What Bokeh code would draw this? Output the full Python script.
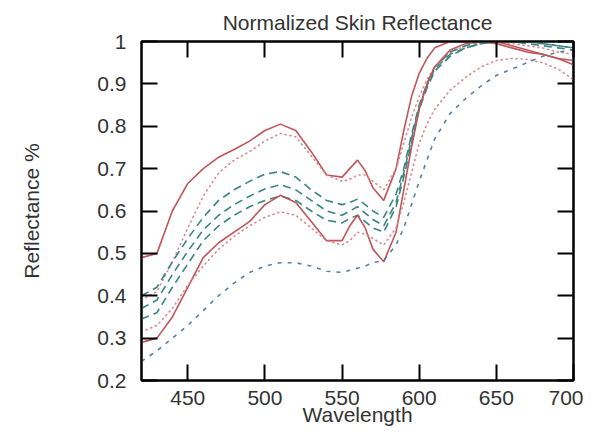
from bokeh.plotting import figure
from bokeh.models import LinearAxis, FixedTicker, CustomJSTickFormatter
from bokeh.embed import file_html
from bokeh.resources import INLINE

# ---- data ----
wavelength = [420, 430, 440, 450, 460, 470, 480, 490, 500, 510, 520, 530, 540, 550,
              555, 560, 565, 570, 577, 585, 590, 595, 600, 605, 610,
              620, 630, 640, 650, 660, 670, 680, 690, 700]

red_solid_upper = [0.49, 0.50, 0.60, 0.665, 0.70, 0.727, 0.745, 0.765, 0.79, 0.805, 0.79, 0.74, 0.685, 0.68,
                   0.70, 0.72, 0.695, 0.655, 0.625, 0.70, 0.79, 0.87, 0.925, 0.96, 0.985,
                   1.0, 1.0, 1.0, 0.995, 0.985, 0.975, 0.97, 0.96, 0.955]
red_dotted_upper = [0.39, 0.41, 0.48, 0.56, 0.635, 0.69, 0.72, 0.74, 0.765, 0.783, 0.775, 0.73, 0.685, 0.67,
                    0.675, 0.685, 0.685, 0.67, 0.65, 0.70, 0.76, 0.82, 0.87, 0.91, 0.94,
                    0.975, 0.99, 1.0, 1.0, 0.995, 0.99, 0.985, 0.975, 0.97]
teal_dashed_1 = [0.40, 0.42, 0.48, 0.535, 0.585, 0.625, 0.65, 0.67, 0.687, 0.693, 0.68, 0.65, 0.625, 0.615,
                 0.62, 0.628, 0.615, 0.60, 0.585, 0.64, 0.70, 0.78, 0.85, 0.90, 0.94,
                 0.975, 0.99, 1.0, 1.0, 1.0, 1.0, 0.995, 0.99, 0.985]
teal_dashed_2 = [0.37, 0.39, 0.45, 0.505, 0.555, 0.59, 0.615, 0.635, 0.652, 0.662, 0.65, 0.625, 0.60, 0.59,
                 0.60, 0.61, 0.595, 0.58, 0.565, 0.62, 0.69, 0.77, 0.845, 0.895, 0.935,
                 0.97, 0.985, 0.995, 1.0, 1.0, 1.0, 0.995, 0.99, 0.985]
teal_dashed_3 = [0.345, 0.36, 0.42, 0.475, 0.53, 0.565, 0.59, 0.61, 0.625, 0.635, 0.625, 0.60, 0.578, 0.572,
                 0.582, 0.59, 0.575, 0.56, 0.55, 0.61, 0.68, 0.76, 0.84, 0.89, 0.93,
                 0.965, 0.985, 0.995, 1.0, 1.0, 0.995, 0.99, 0.985, 0.98]
red_solid_lower = [0.29, 0.30, 0.35, 0.42, 0.49, 0.525, 0.55, 0.575, 0.615, 0.637, 0.62, 0.575, 0.53, 0.53,
                   0.565, 0.59, 0.56, 0.51, 0.48, 0.55, 0.65, 0.75, 0.84, 0.90, 0.94,
                   0.98, 0.995, 1.0, 1.0, 0.99, 0.98, 0.97, 0.96, 0.945]
red_dotted_lower = [0.315, 0.33, 0.37, 0.425, 0.47, 0.51, 0.54, 0.565, 0.585, 0.598, 0.59, 0.56, 0.53, 0.52,
                    0.53, 0.55, 0.545, 0.535, 0.52, 0.56, 0.62, 0.69, 0.76, 0.805, 0.84,
                    0.885, 0.915, 0.94, 0.955, 0.96, 0.958, 0.95, 0.935, 0.91]
blue_dashed = [0.245, 0.27, 0.30, 0.33, 0.365, 0.40, 0.43, 0.455, 0.47, 0.478, 0.478, 0.47, 0.458, 0.455,
               0.46, 0.465, 0.47, 0.478, 0.483, 0.52, 0.56, 0.615, 0.67, 0.72, 0.77,
               0.83, 0.865, 0.895, 0.92, 0.935, 0.95, 0.965, 0.975, 0.98]

x_ticks = [450, 500, 550, 600, 650, 700]
y_ticks = [0.2, 0.3, 0.4, 0.5, 0.6, 0.7, 0.8, 0.9, 1.0]

FONT = "Liberation Sans"
TXT = "#333333"

p = figure(frame_width=432, frame_height=339, x_range=(420, 700), y_range=(0.2, 1.0),
           output_backend="svg", toolbar_location=None,
           title="Normalized Skin Reflectance", x_axis_label="Wavelength",
           y_axis_label="Reflectance %",
           min_border_left=133, min_border_right=10, min_border_top=34, min_border_bottom=52)
p.grid.visible = False
p.background_fill_color = "white"
p.border_fill_color = "white"
p.outline_line_color = "black"
p.outline_line_width = 2

p.title.align = "center"
p.title.text_font = FONT
p.title.text_font_size = "21px"
p.title.text_font_style = "normal"
p.title.text_color = TXT
p.title.standoff = 16

# series
red = "#c0555a"
red_dot = "#d8868c"
teal = "#3a8580"
blue = "#557fa3"
p.line(wavelength, red_solid_upper, line_color=red, line_width=1.6)
p.line(wavelength, red_dotted_upper, line_color=red_dot, line_width=1.6, line_dash="1 4", line_cap="round")
p.line(wavelength, teal_dashed_1, line_color=teal, line_width=1.6, line_dash="8 5")
p.line(wavelength, teal_dashed_2, line_color=teal, line_width=1.6, line_dash="8 5")
p.line(wavelength, teal_dashed_3, line_color=teal, line_width=1.6, line_dash="8 5")
p.line(wavelength, red_solid_lower, line_color=red, line_width=1.6)
p.line(wavelength, red_dotted_lower, line_color=red_dot, line_width=1.6, line_dash="1 4", line_cap="round")
p.line(wavelength, blue_dashed, line_color=blue, line_width=1.6, line_dash="4 6")

fmt_y = CustomJSTickFormatter(code="return (Math.round(tick*10)/10).toString();")
fmt_x = CustomJSTickFormatter(code="return Math.round(tick).toString();")
blank = CustomJSTickFormatter(code="return '';")

def style(ax):
    ax.axis_line_color = "black"
    ax.axis_line_width = 2
    ax.major_tick_line_color = "black"
    ax.major_tick_line_width = 2
    ax.major_tick_in = 16
    ax.major_tick_out = 0
    ax.minor_tick_line_color = None
    ax.major_label_text_font = FONT
    ax.major_label_text_font_size = "21px"
    ax.major_label_text_color = TXT
    ax.axis_label_text_font = FONT
    ax.axis_label_text_font_size = "21px"
    ax.axis_label_text_font_style = "normal"
    ax.axis_label_text_color = TXT

xa = p.xaxis[0]
xa.ticker = FixedTicker(ticks=x_ticks)
xa.formatter = fmt_x
style(xa)
xa.major_label_standoff = 10
xa.axis_label_standoff = -5

ya = p.yaxis[0]
ya.ticker = FixedTicker(ticks=y_ticks)
ya.formatter = fmt_y
style(ya)
ya.major_label_standoff = 15
ya.axis_label_standoff = 51

# invisible spacer axis on the far left (keeps a margin outside the y label)
spacer = LinearAxis(ticker=FixedTicker(ticks=y_ticks), formatter=blank)
spacer.axis_line_color = None
spacer.major_tick_line_color = None
spacer.minor_tick_line_color = None
spacer.major_tick_in = 0
spacer.major_tick_out = 17
spacer.major_label_standoff = 0
p.add_layout(spacer, "left")

top = LinearAxis(ticker=FixedTicker(ticks=x_ticks), formatter=blank)
style(top)
top.major_label_standoff = 0
p.add_layout(top, "above")

right = LinearAxis(ticker=FixedTicker(ticks=y_ticks), formatter=blank)
style(right)
right.major_label_standoff = 0
p.add_layout(right, "right")

open("out.html", "w").write(file_html(p, INLINE))
